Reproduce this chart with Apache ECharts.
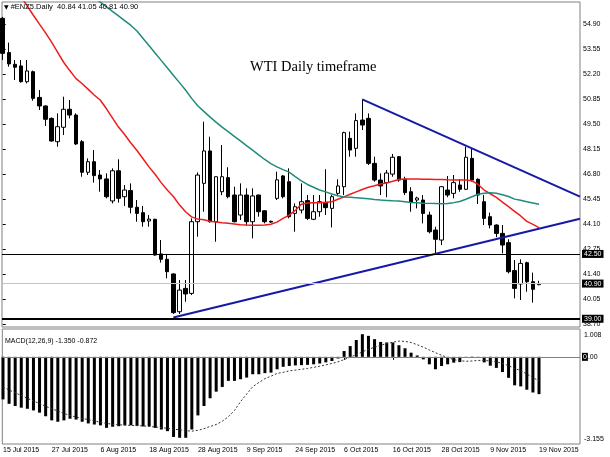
<!DOCTYPE html>
<html>
<head>
<meta charset="utf-8">
<script src="https://cdn.jsdelivr.net/npm/echarts@6/dist/echarts.min.js"></script>
<style>
html, body { margin: 0; padding: 0; background: #fff; }
#chart { width: 610px; height: 457px; }
</style>
</head>
<body>
<div id="chart"></div>
<script>
// daily candles, 15 Jul 2015 .. 19 Nov 2015
var opens = [55.22, 53.37, 52.74, 52.65, 51.80, 52.34, 50.95, 50.49, 49.82, 48.56,
    49.34, 50.31, 50.00, 48.56, 46.91, 47.48, 46.76, 46.55, 45.36, 46.99,
    45.59, 45.92, 45.02, 44.73, 44.28, 44.37, 42.50, 42.21, 41.42, 39.38,
    40.64, 40.37, 44.24, 46.31, 48.06, 44.24, 45.86, 46.62, 45.68, 44.60,
    45.68, 44.24, 45.68, 44.83, 44.26, 45.50, 46.71, 46.40, 44.69, 44.87,
    45.38, 44.37, 44.78, 45.27, 44.96, 45.77, 46.13, 48.74, 48.20, 49.73,
    49.82, 47.39, 46.49, 46.35, 46.81, 47.75, 46.53, 45.86, 45.41, 45.41,
    44.60, 43.79, 43.25, 45.95, 45.77, 46.22, 45.99, 47.66, 46.53, 45.32,
    44.51, 44.06, 43.61, 43.11, 41.60, 40.88, 42.03, 41.00, 40.84];
var closes = [53.33, 52.76, 52.58, 51.80, 52.38, 50.90, 50.49, 49.77, 48.60, 49.37,
    50.31, 50.00, 48.44, 46.91, 47.48, 46.73, 46.55, 45.59, 46.99, 45.50,
    45.95, 45.02, 44.69, 44.24, 44.38, 42.44, 42.21, 41.54, 39.33, 40.55,
    40.34, 44.24, 46.76, 48.06, 44.24, 46.67, 46.67, 45.59, 44.24, 45.68,
    44.24, 45.63, 44.78, 44.24, 44.22, 46.50, 45.59, 44.51, 45.05, 45.32,
    44.42, 44.78, 45.32, 45.00, 45.59, 46.17, 49.05, 48.11, 49.70, 49.46,
    47.39, 46.49, 46.17, 46.87, 47.72, 46.49, 45.81, 45.27, 45.52, 44.69,
    43.70, 43.29, 46.13, 45.68, 46.35, 45.99, 47.72, 46.49, 45.68, 44.42,
    44.06, 43.61, 42.98, 41.54, 40.64, 41.99, 41.00, 40.59, 40.90];
var lows = [52.97, 52.61, 51.89, 51.75, 51.71, 50.77, 50.27, 49.41, 48.56, 48.29,
    48.92, 49.82, 48.38, 46.67, 46.76, 46.35, 45.86, 45.50, 45.23, 45.27,
    45.09, 44.69, 44.24, 43.97, 43.97, 42.40, 42.03, 41.18, 39.26, 39.26,
    39.92, 40.28, 43.43, 44.78, 44.19, 43.16, 45.68, 45.50, 44.20, 44.33,
    44.03, 43.34, 44.51, 44.15, 44.18, 45.41, 45.50, 44.42, 43.70, 44.69,
    44.33, 44.33, 44.51, 44.60, 43.93, 45.68, 45.68, 47.75, 47.75, 49.19,
    47.30, 46.40, 45.68, 45.56, 46.67, 46.40, 45.68, 44.78, 44.96, 44.15,
    43.61, 42.53, 42.98, 45.56, 45.50, 45.86, 45.95, 46.40, 45.20, 44.06,
    43.88, 43.40, 42.53, 41.45, 40.10, 40.01, 40.46, 39.87, 40.81];
var highs = [55.30, 53.91, 52.97, 52.97, 52.97, 52.40, 51.35, 50.52, 49.87, 50.09,
    50.99, 50.81, 50.09, 48.65, 47.66, 48.11, 47.03, 46.85, 47.12, 47.61,
    46.22, 46.31, 45.41, 45.09, 44.60, 44.40, 43.25, 42.50, 41.45, 41.09,
    41.09, 44.42, 46.90, 49.64, 48.83, 46.67, 48.38, 47.18, 46.13, 46.31,
    46.04, 46.04, 45.70, 44.85, 44.30, 46.94, 46.76, 47.12, 45.23, 46.31,
    45.68, 45.68, 45.68, 47.07, 45.68, 46.53, 49.10, 49.10, 50.09, 50.85,
    50.09, 47.75, 46.85, 47.03, 47.90, 47.79, 46.67, 46.10, 45.59, 45.68,
    44.78, 43.97, 46.17, 46.71, 46.76, 46.53, 48.29, 48.20, 46.58, 45.68,
    44.73, 44.10, 44.06, 43.29, 42.17, 42.21, 42.08, 41.49, 41.05];

// moving averages (red fast, teal slow)
var maFast = [57.90, 57.40, 56.90, 56.40, 55.90, 55.40, 54.92, 54.45, 53.95, 53.40,
    52.85, 52.40, 51.98, 51.70, 51.40, 51.08, 50.81, 50.35, 49.85, 49.35,
    48.95, 48.50, 48.10, 47.65, 47.20, 46.80, 46.35, 45.95, 45.60, 45.15,
    44.78, 44.50, 44.38, 44.35, 44.26, 44.22, 44.18, 44.16, 44.12, 44.08,
    44.06, 44.05, 44.05, 44.06, 44.10, 44.22, 44.42, 44.60, 44.85, 45.18,
    45.25, 45.26, 45.27, 45.29, 45.32, 45.45, 45.58, 45.72, 45.85, 45.98,
    46.10, 46.18, 46.28, 46.33, 46.42, 46.52, 46.55, 46.55, 46.54, 46.53,
    46.53, 46.52, 46.52, 46.50, 46.49, 46.49, 46.49, 46.45, 46.25, 45.95,
    45.75, 45.55, 45.30, 45.05, 44.80, 44.55, 44.26, 44.10, 43.92];
var maSlow = [60.10, 59.85, 59.60, 59.35, 59.10, 58.85, 58.60, 58.35, 58.10, 57.85,
    57.60, 57.35, 57.10, 56.85, 56.60, 56.35, 56.10, 55.85, 55.60, 55.35,
    55.10, 54.85, 54.55, 54.15, 53.75, 53.35, 52.95, 52.55, 52.15, 51.75,
    51.35, 50.90, 50.50, 50.20, 49.90, 49.62, 49.35, 49.10, 48.85, 48.60,
    48.35, 48.10, 47.85, 47.60, 47.38, 47.20, 47.05, 46.92, 46.68, 46.45,
    46.25, 46.10, 45.95, 45.85, 45.74, 45.64, 45.58, 45.56, 45.54, 45.51,
    45.48, 45.44, 45.41, 45.39, 45.37, 45.36, 45.32, 45.28, 45.26, 45.24,
    45.23, 45.22, 45.21, 45.22, 45.27, 45.33, 45.45, 45.59, 45.72, 45.78,
    45.81, 45.78, 45.70, 45.60, 45.46, 45.40, 45.32, 45.25, 45.18];

// MACD(12,26,9): main as histogram, signal as dotted line
var macdMain = [-1.54, -1.70, -1.78, -1.84, -1.88, -1.94, -2.02, -2.15, -2.30, -2.35,
    -2.30, -2.24, -2.27, -2.35, -2.41, -2.45, -2.48, -2.57, -2.53, -2.51,
    -2.48, -2.48, -2.50, -2.52, -2.52, -2.57, -2.63, -2.69, -2.90, -2.93,
    -2.93, -2.63, -2.12, -1.78, -1.50, -1.26, -1.09, -0.87, -0.87, -0.81,
    -0.75, -0.63, -0.63, -0.59, -0.57, -0.45, -0.36, -0.33, -0.31, -0.30,
    -0.29, -0.27, -0.24, -0.20, -0.15, -0.06, 0.21, 0.39, 0.61, 0.82,
    0.76, 0.64, 0.54, 0.52, 0.52, 0.42, 0.31, 0.15, 0.05, -0.09,
    -0.27, -0.45, -0.33, -0.27, -0.21, -0.19, -0.04, 0.01, -0.03, -0.20,
    -0.32, -0.40, -0.55, -0.76, -1.03, -1.07, -1.19, -1.29, -1.35];
var macdSignal = [-1.09, -1.20, -1.30, -1.40, -1.50, -1.60, -1.69, -1.79, -1.88, -1.96,
    -2.05, -2.12, -2.18, -2.23, -2.27, -2.32, -2.37, -2.41, -2.44, -2.46,
    -2.47, -2.48, -2.49, -2.50, -2.52, -2.54, -2.56, -2.59, -2.62, -2.64,
    -2.67, -2.69, -2.66, -2.60, -2.52, -2.45, -2.33, -2.17, -1.94, -1.62,
    -1.35, -1.08, -0.93, -0.79, -0.70, -0.60, -0.56, -0.51, -0.48, -0.45,
    -0.42, -0.38, -0.34, -0.29, -0.24, -0.18, -0.10, -0.01, 0.08, 0.18,
    0.27, 0.35, 0.42, 0.48, 0.53, 0.57, 0.56, 0.52, 0.44, 0.35,
    0.25, 0.15, 0.06, -0.03, -0.10, -0.14, -0.16, -0.15, -0.13, -0.13,
    -0.15, -0.18, -0.24, -0.32, -0.42, -0.50, -0.62, -0.75, -0.872];

var tickLabels = ['15 Jul 2015', '27 Jul 2015', '6 Aug 2015', '18 Aug 2015', '28 Aug 2015', '9 Sep 2015',
    '24 Sep 2015', '6 Oct 2015', '16 Oct 2015', '28 Oct 2015', '9 Nov 2015', '19 Nov 2015'];
var priceTicks = [54.90, 53.55, 52.20, 50.85, 49.50, 48.15, 46.80, 45.45, 44.10, 42.75, 41.40, 40.05, 38.70];
var macdTicks = [1.008, 0, -3.155];
var levels = [42.50, 39.00];
var upperTrend = [[59, 50.85], [94.73, 45.59]];
var lowerTrend = [[28, 39.07], [94.73, 44.40]];

var FONT = 'Liberation Sans';
var last = closes.length - 1;
var bid = closes[last];

var xTicks = [];
for (var k = 0; k < tickLabels.length; k++) {
    xTicks.push(k * 8);
}

function pairs(arr) {
    return arr.map(function (v, i) { return [i, v]; });
}

var candles = opens.map(function (o, i) {
    return [i, o, closes[i], lows[i], highs[i]];
});

var header = '#ENZ5.Daily  ' + [opens[last], highs[last], lows[last], closes[last]].map(function (v) {
    return v.toFixed(2);
}).join(' ');
var macdHeader = 'MACD(12,26,9) ' + macdMain[last].toFixed(3) + ' ' + macdSignal[last].toFixed(3);

var myChart = echarts.init(document.getElementById('chart'));

var option = {
    animation: false,
    backgroundColor: '#fff',
    title: [{
        text: '{tri|▼} ' + header,
        left: 4, top: 3, padding: 0,
        textStyle: {
            fontFamily: FONT, fontSize: 7.5, fontWeight: 'normal', color: '#000',
            rich: { tri: { fontFamily: 'DejaVu Sans', fontSize: 6, color: '#000' } }
        }
    }, {
        text: 'WTI Daily timeframe',
        left: 250, top: 60, padding: 0,
        textStyle: { fontFamily: 'Liberation Serif', fontSize: 14.5, fontWeight: 'normal', color: '#000' }
    }, {
        text: macdHeader,
        left: 5, top: 338, padding: 0,
        textStyle: { fontFamily: FONT, fontSize: 7, fontWeight: 'normal', color: '#000' }
    }],
    grid: [
        { left: 2, top: 2, right: 30, height: 325, show: true, borderColor: '#808080', borderWidth: 1 },
        { left: 2, top: 329, right: 30, height: 115, show: true, borderColor: '#808080', borderWidth: 1 }
    ],
    xAxis: [{
        type: 'value', gridIndex: 0, min: -0.115, max: 94.73, show: false
    }, {
        type: 'value', gridIndex: 1, min: -0.115, max: 94.73,
        splitLine: { show: false },
        axisLine: { show: false },
        axisTick: { show: true, customValues: xTicks, length: 3, lineStyle: { color: '#000' } },
        axisLabel: {
            customValues: xTicks,
            formatter: function (v) { return tickLabels[Math.round(v / 8)]; },
            align: 'left', margin: 3,
            fontFamily: FONT, fontSize: 7, color: '#000'
        }
    }],
    yAxis: [{
        type: 'value', gridIndex: 0, position: 'right',
        min: 38.555, max: 56.103,
        splitLine: { show: false },
        axisLine: { show: false },
        axisTick: { show: true, customValues: priceTicks, length: 3, lineStyle: { color: '#000' } },
        axisLabel: {
            customValues: priceTicks,
            formatter: function (v) { return v.toFixed(2); },
            margin: 3, fontFamily: FONT, fontSize: 7, color: '#000'
        }
    }, {
        type: 'value', gridIndex: 1, position: 'right',
        min: -3.155, max: 1.008,
        splitLine: { show: false },
        axisLine: { show: false },
        axisTick: { show: false },
        axisLabel: {
            customValues: macdTicks,
            formatter: function (v) {
                if (Math.abs(v - macdTicks[0]) < 1e-6) return '{t|' + v.toFixed(3) + '}';
                if (Math.abs(v) < 1e-6) return '0.00';
                return '{b|' + v.toFixed(3) + '}';
            },
            margin: 4, fontFamily: FONT, fontSize: 7, color: '#000',
            rich: {
                t: { fontFamily: FONT, fontSize: 7, color: '#000', padding: [12, 0, 0, 0] },
                b: { fontFamily: FONT, fontSize: 7, color: '#000', padding: [0, 0, 10, 0] }
            }
        }
    }],
    series: [{
        name: 'price',
        type: 'candlestick',
        xAxisIndex: 0, yAxisIndex: 0,
        barWidth: 4,
        data: candles,
        itemStyle: {
            color: '#fff', color0: '#000',
            borderColor: '#000', borderColor0: '#000', borderWidth: 1
        },
        markLine: {
            silent: true,
            symbol: ['none', 'none'],
            label: {
                show: true, position: 'end', distance: 2,
                formatter: function (p) { return p.value.toFixed(2); },
                color: '#fff', backgroundColor: '#000', padding: [1, 2, 0, 2],
                fontFamily: FONT, fontSize: 7
            },
            data: [
                { yAxis: levels[0], lineStyle: { color: '#000', width: 1, type: 'solid' } },
                { yAxis: levels[1], lineStyle: { color: '#000', width: 2, type: 'solid' } },
                { yAxis: bid, lineStyle: { color: '#c4c4c4', width: 1, type: 'solid' } }
            ]
        }
    }, {
        name: 'MA fast',
        type: 'line',
        xAxisIndex: 0, yAxisIndex: 0,
        data: pairs(maFast),
        showSymbol: false,
        lineStyle: { color: '#ee1c1c', width: 1.5 }
    }, {
        name: 'MA slow',
        type: 'line',
        xAxisIndex: 0, yAxisIndex: 0,
        data: pairs(maSlow),
        showSymbol: false,
        lineStyle: { color: '#1e8c7c', width: 1.5 }
    }, {
        name: 'upper trend',
        type: 'line',
        xAxisIndex: 0, yAxisIndex: 0,
        data: upperTrend,
        showSymbol: false,
        lineStyle: { color: '#1818a8', width: 2 }
    }, {
        name: 'lower trend',
        type: 'line',
        xAxisIndex: 0, yAxisIndex: 0,
        data: lowerTrend,
        showSymbol: false,
        lineStyle: { color: '#1818a8', width: 2 }
    }, {
        name: 'MACD',
        type: 'bar',
        xAxisIndex: 1, yAxisIndex: 1,
        barWidth: 3,
        data: pairs(macdMain),
        itemStyle: { color: '#000' },
        markLine: {
            silent: true,
            symbol: ['none', 'none'],
            label: {
                show: true, position: 'end', distance: 2,
                formatter: '0',
                color: '#fff', backgroundColor: '#000', padding: [1, 1, 0, 1],
                fontFamily: FONT, fontSize: 7
            },
            data: [{ yAxis: 0, lineStyle: { color: '#808080', width: 1, type: 'solid' } }]
        }
    }, {
        name: 'Signal',
        type: 'line',
        xAxisIndex: 1, yAxisIndex: 1,
        data: pairs(macdSignal),
        showSymbol: false,
        z: 3,
        lineStyle: { color: '#333', width: 1, type: [2, 2] }
    }]
};

myChart.setOption(option);
</script>
</body>
</html>
